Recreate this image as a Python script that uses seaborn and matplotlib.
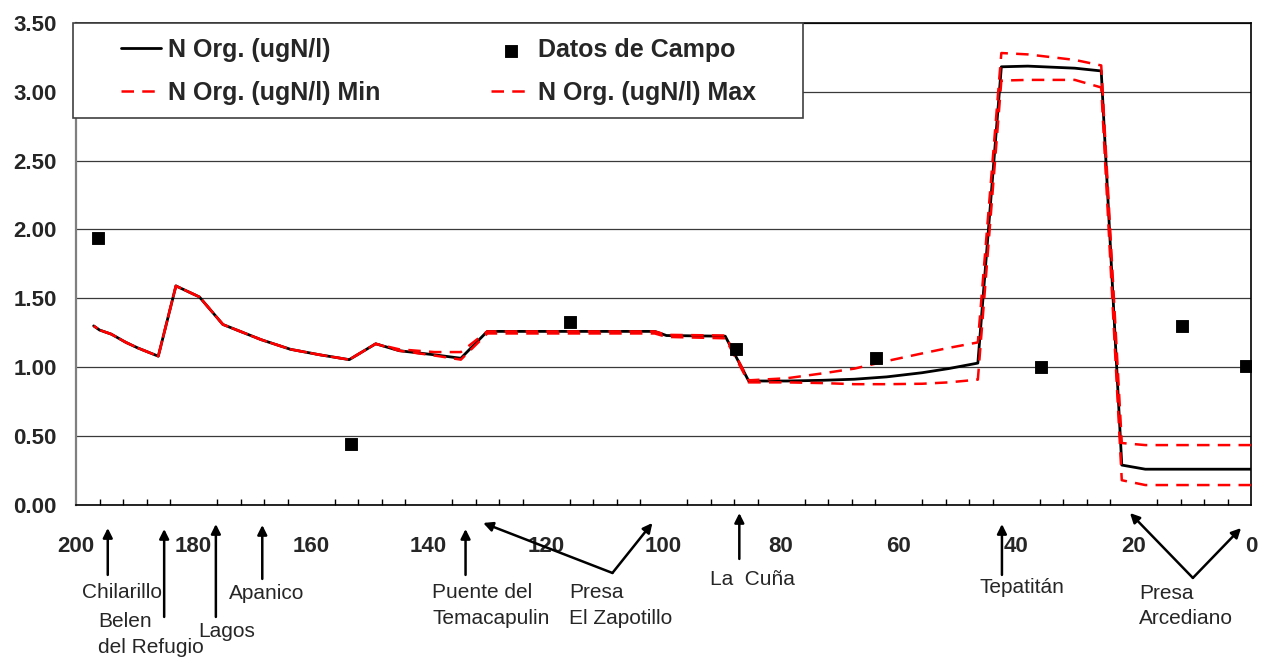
import numpy as np
import pandas as pd
import matplotlib
matplotlib.use("Agg")
import matplotlib.pyplot as plt
from matplotlib.patches import Rectangle
import seaborn as sns

# Distance along the river (km) and simulated organic nitrogen
km = [197, 196, 194, 191.5, 189.5, 186, 183, 179, 175, 168.5, 163.5, 158.5,
      153.5, 149, 145, 139, 134.5, 130, 101.5, 99.5, 89.5, 85.5, 79, 73,
      67.5, 62, 56, 51.5, 46.5, 42.5, 38, 30, 25.5, 22, 18, 10, 0]
n_org = [1.30, 1.27, 1.24, 1.18, 1.14, 1.08, 1.59, 1.51, 1.31, 1.20, 1.13, 1.09,
         1.055, 1.17, 1.12, 1.09, 1.065, 1.26, 1.26, 1.23, 1.225, 0.90, 0.90, 0.905,
         0.913, 0.93, 0.96, 0.99, 1.03, 3.18, 3.185, 3.17, 3.15, 0.29, 0.26, 0.26, 0.26]
n_org_min = [1.30, 1.27, 1.24, 1.18, 1.14, 1.08, 1.59, 1.51, 1.31, 1.20, 1.13, 1.09,
             1.055, 1.17, 1.12, 1.085, 1.055, 1.245, 1.245, 1.22, 1.21, 0.89, 0.89, 0.885,
             0.877, 0.877, 0.88, 0.89, 0.91, 3.08, 3.085, 3.085, 3.03, 0.18, 0.145, 0.145, 0.145]
n_org_max = [1.30, 1.27, 1.24, 1.18, 1.14, 1.08, 1.59, 1.51, 1.31, 1.20, 1.13, 1.09,
             1.055, 1.17, 1.13, 1.11, 1.11, 1.26, 1.26, 1.235, 1.23, 0.905, 0.92, 0.955,
             0.99, 1.045, 1.10, 1.14, 1.18, 3.28, 3.27, 3.23, 3.19, 0.45, 0.435, 0.435, 0.435]

# Field measurements
campo_km = [196.3, 153.2, 116.0, 87.7, 63.9, 35.8, 11.8, 0.9]
campo_val = [1.94, 0.44, 1.33, 1.13, 1.065, 1.00, 1.30, 1.01]

# Stations along the river and where their arrows point (km)
stations = ["Chilarillo", "Belen\ndel Refugio", "Lagos", "Apanico",
            "Puente del\nTemacapulin", "Presa\nEl Zapotillo", "La  Cuña",
            "Tepatitán", "Presa\nArcediano"]
station_tips = [[194.6], [185.0], [176.2], [168.3], [133.7], [130.7, 101.9],
                [87.1], [42.4], [20.6, 1.7]]

# layout of the station labels (below the axis, in data units)
tip_y = [[-0.167], [-0.174], [-0.138], [-0.145], [-0.174], [-0.130, -0.130],
         [-0.058], [-0.138], [-0.058, -0.167]]
tail_xy = [(194.6, -0.507), (185.0, -0.812), (176.2, -0.812), (168.3, -0.536),
           (133.7, -0.507), (108.7, -0.493), (87.1, -0.391), (42.4, -0.507),
           (9.9, -0.529)]
text_xy = [(192.1, -0.638, "center"), (187.2, -0.942, "center"),
           (174.3, -0.920, "center"), (167.5, -0.645, "center"),
           (139.4, -0.728, "left"), (116.1, -0.728, "left"),
           (92.1, -0.543, "left"), (39.0, -0.601, "center"),
           (19.1, -0.732, "left")]

df = pd.DataFrame({"km": km, "n_org": n_org, "min": n_org_min, "max": n_org_max})
campo = pd.DataFrame({"km": campo_km, "val": campo_val})

sns.set_style("white")
plt.rcParams["font.family"] = ["Liberation Sans", "DejaVu Sans"]

fig = plt.figure(figsize=(12.61, 6.60), dpi=100)
ax = fig.add_axes([0.0603, 0.2348, 0.9318, 0.7308])

sns.lineplot(data=df, x="km", y="n_org", ax=ax, color="black", lw=2.0,
             label="N Org. (ugN/l)", zorder=3)
sns.lineplot(data=df, x="km", y="min", ax=ax, color="red", lw=1.8,
             label="N Org. (ugN/l) Min", zorder=4, dashes=False)
sns.lineplot(data=df, x="km", y="max", ax=ax, color="red", lw=1.8,
             label="N Org. (ugN/l) Max", zorder=4, dashes=False)
for line in ax.lines[1:3]:
    line.set_dashes((5.0, 3.3))
sns.scatterplot(data=campo, x="km", y="val", ax=ax, color="black", marker="s",
                s=64, edgecolor="black", label="Datos de Campo", zorder=5)

ax.set_xlim(200, 0)
ax.set_ylim(0, 3.5)
ax.set_xticks(np.arange(200, -1, -20))
ax.set_xticks(np.arange(200, -1, -4), minor=True)
ax.set_xticklabels([str(v) for v in range(200, -1, -20)])
ax.set_yticks(np.arange(0, 3.51, 0.5))
ax.set_yticklabels([f"{v:.2f}" for v in np.arange(0, 3.51, 0.5)])
ax.set_xlabel("")
ax.set_ylabel("")

ax.tick_params(axis="x", which="major", direction="in", length=6, width=1,
               color="black", pad=22, labelsize=16)
ax.tick_params(axis="x", which="minor", direction="in", length=4.5, width=1,
               color="black", bottom=True)
ax.tick_params(axis="y", length=0, pad=14, labelsize=16)
for lab in ax.get_xticklabels() + ax.get_yticklabels():
    lab.set_fontweight("bold")

ax.grid(axis="y", color="#3a3a3a", lw=0.9)
ax.grid(axis="x", visible=False)
ax.set_axisbelow(True)
for side in ["top", "right", "bottom"]:
    ax.spines[side].set_visible(True)
    ax.spines[side].set_color("black")
    ax.spines[side].set_linewidth(1.2)
ax.spines["left"].set_color("#7f7f7f")
ax.spines["left"].set_linewidth(1.6)

# legend with a fixed box
handles, labels = ax.get_legend_handles_labels()
order = [labels.index(n) for n in ["N Org. (ugN/l)", "N Org. (ugN/l) Min",
                                   "Datos de Campo", "N Org. (ugN/l) Max"]]
W, H = 1261.0, 660.0
ax.add_patch(Rectangle((72.7 / W, 1 - 117.7 / H), (803 - 72.7) / W, (117.7 - 23.3) / H,
                       transform=fig.transFigure, facecolor="white",
                       edgecolor="#404040", lw=1.2, zorder=4.5, clip_on=False))
leg = ax.legend([handles[i] for i in order], [labels[i] for i in order],
                ncol=2, frameon=False, mode="expand",
                bbox_to_anchor=(121 / W, 1 - 115 / H, (756 - 121) / W, (115 - 28) / H),
                bbox_transform=fig.transFigure, loc="center",
                borderaxespad=0, borderpad=0, handlelength=1.6, handletextpad=0.3,
                labelspacing=0.75, prop={"weight": "bold", "size": 18})
leg.set_zorder(6)

# station arrows and labels
for name, tips, ty, tail, txt in zip(stations, station_tips, tip_y, tail_xy, text_xy):
    for tx, tyy in zip(tips, ty):
        ax.annotate("", xy=(tx, tyy), xytext=tail, annotation_clip=False,
                    arrowprops=dict(arrowstyle="-|>", color="black", lw=1.8,
                                    mutation_scale=14, shrinkA=0, shrinkB=0))
    ax.text(txt[0], txt[1], name, ha=txt[2], va="center", fontsize=15,
            multialignment="left", linespacing=1.45, clip_on=False)

fig.savefig("out.png", dpi=100)
